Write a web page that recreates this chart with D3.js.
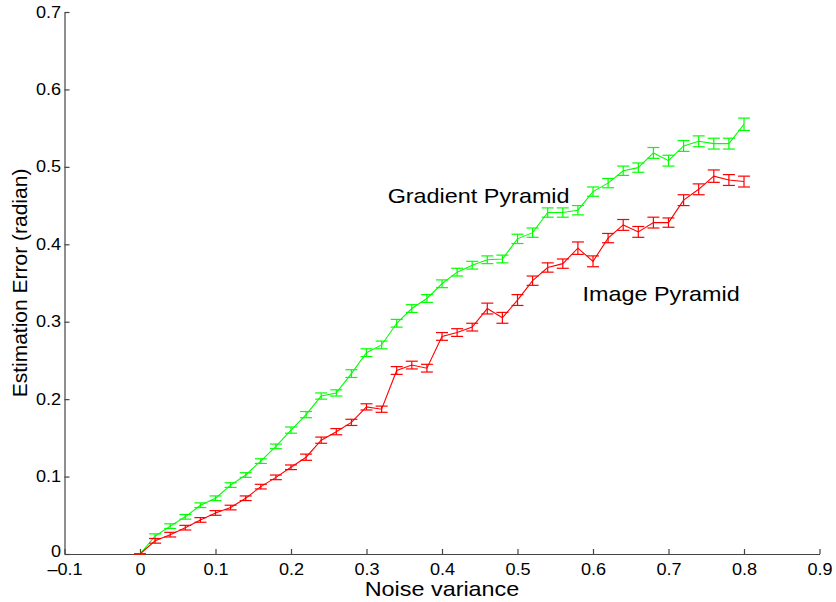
<!DOCTYPE html>
<html>
<head>
<meta charset="utf-8">
<script src="https://cdn.jsdelivr.net/npm/d3@7"></script>
<style>
  html, body { margin: 0; padding: 0; background: #fff; }
  svg { display: block; font-family: "Liberation Sans", Arial, sans-serif; }
</style>
</head>
<body>
<svg id="chart" width="836" height="602"></svg>
<script>
// Noise variance levels (x values)
const noiseVariance = [
  0, 0.02, 0.04, 0.06, 0.08, 0.10, 0.12, 0.14, 0.16, 0.18,
  0.20, 0.22, 0.24, 0.26, 0.28, 0.30, 0.32, 0.34, 0.36, 0.38,
  0.40, 0.42, 0.44, 0.46, 0.48, 0.50, 0.52, 0.54, 0.56, 0.58,
  0.60, 0.62, 0.64, 0.66, 0.68, 0.70, 0.72, 0.74, 0.76, 0.78, 0.80
];

// Mean estimation error, gradient pyramid
const gradientMean = [
  0, 0.023, 0.036, 0.048, 0.063, 0.072, 0.089, 0.102, 0.120, 0.139,
  0.160, 0.180, 0.204, 0.208, 0.233, 0.260, 0.270, 0.298, 0.317, 0.330,
  0.349, 0.364, 0.373, 0.380, 0.381, 0.407, 0.415, 0.441, 0.441, 0.444,
  0.468, 0.479, 0.495, 0.499, 0.518, 0.508, 0.527, 0.533, 0.530, 0.530, 0.555
];
// Half-width of the error bars, gradient pyramid
const gradientErr = [
  0, 0.003, 0.003, 0.003, 0.003, 0.003, 0.003, 0.003, 0.003, 0.003,
  0.004, 0.004, 0.004, 0.004, 0.005, 0.005, 0.005, 0.005, 0.005, 0.005,
  0.005, 0.005, 0.005, 0.005, 0.005, 0.006, 0.006, 0.006, 0.006, 0.006,
  0.006, 0.006, 0.006, 0.006, 0.007, 0.007, 0.007, 0.007, 0.007, 0.007, 0.008
];

// Mean estimation error, image pyramid
const imageMean = [
  0, 0.017, 0.025, 0.034, 0.044, 0.053, 0.060, 0.072, 0.087, 0.099,
  0.112, 0.125, 0.147, 0.158, 0.170, 0.190, 0.187, 0.237, 0.244, 0.240,
  0.281, 0.286, 0.293, 0.317, 0.305, 0.328, 0.353, 0.370, 0.375, 0.395,
  0.378, 0.408, 0.425, 0.416, 0.428, 0.428, 0.457, 0.471, 0.488, 0.483, 0.481
];
// Half-width of the error bars, image pyramid
const imageErr = [
  0, 0.003, 0.003, 0.003, 0.003, 0.003, 0.003, 0.003, 0.003, 0.003,
  0.003, 0.004, 0.004, 0.004, 0.004, 0.004, 0.004, 0.005, 0.005, 0.005,
  0.005, 0.005, 0.005, 0.007, 0.007, 0.007, 0.006, 0.006, 0.006, 0.008,
  0.007, 0.006, 0.007, 0.007, 0.007, 0.006, 0.007, 0.007, 0.008, 0.007, 0.007
];

const xTicks = [-0.1, 0, 0.1, 0.2, 0.3, 0.4, 0.5, 0.6, 0.7, 0.8, 0.9];
const yTicks = [0, 0.1, 0.2, 0.3, 0.4, 0.5, 0.6, 0.7];

const seriesNames = ["Gradient Pyramid", "Image Pyramid"];
const seriesColors = ["#00ff00", "#ff0000"];

const series = [
  { name: seriesNames[0], color: seriesColors[0], mean: gradientMean, err: gradientErr,
    labelAt: [0.328, 0.453] },
  { name: seriesNames[1], color: seriesColors[1], mean: imageMean, err: imageErr,
    labelAt: [0.586, 0.327] }
];

const svg = d3.select("#chart");
const margin = { left: 64.5, right: 16.5, top: 12, bottom: 48 };
const W = 836, H = 602;
// Text is drawn slightly wide (horizontal stretch factor)
const wideText = 1.17;
const wideTick = 1.13;

const x = d3.scaleLinear().domain([-0.1, 0.9]).range([margin.left, W - margin.right]);
const y = d3.scaleLinear().domain([0, 0.7]).range([H - margin.bottom, margin.top]);

const fmt = v => (v < 0 ? "\u2013" + d3.format("")(Math.abs(v)) : d3.format("")(v));

// Bottom axis, ticks pointing inward
const gx = svg.append("g")
  .attr("transform", `translate(0,${y(0)})`)
  .call(d3.axisBottom(x).tickValues(xTicks).tickSizeInner(-5).tickSizeOuter(0).tickPadding(10).tickFormat(fmt));
gx.selectAll("text").attr("font-size", 16).attr("fill", "#000")
  .attr("font-family", "Liberation Sans, Arial, sans-serif")
  .attr("transform", `scale(${wideTick},1)`);

// Left axis, ticks pointing inward
const gy = svg.append("g")
  .attr("transform", `translate(${x(-0.1)},0)`)
  .call(d3.axisLeft(y).tickValues(yTicks).tickSizeInner(-5).tickSizeOuter(0).tickPadding(3).tickFormat(d3.format("")));
gy.selectAll("text").attr("font-size", 16).attr("fill", "#000")
  .attr("font-family", "Liberation Sans, Arial, sans-serif")
  .attr("transform", `scale(${wideTick},1)`);
// lift the corner "0" a touch so it clears the x labels
gy.selectAll(".tick").filter(d => d === 0).select("text").attr("dy", "0.18em");

svg.selectAll(".domain, .tick line").attr("stroke", "#444").attr("stroke-width", 1.2);

// Curves with error bars
const line = d3.line().x((d, i) => x(noiseVariance[i])).y(d => y(d));
const capHalf = 6;

series.forEach(s => {
  const g = svg.append("g");
  g.append("path")
    .datum(s.mean)
    .attr("d", line)
    .attr("fill", "none")
    .attr("stroke", s.color)
    .attr("stroke-width", 1.1);

  const bars = g.selectAll("g.bar")
    .data(s.mean.map((m, i) => ({ v: noiseVariance[i], m, e: s.err[i] })))
    .join("g").attr("class", "bar")
    .attr("stroke", s.color).attr("stroke-width", 1.2);
  bars.append("line")
    .attr("x1", d => x(d.v)).attr("x2", d => x(d.v))
    .attr("y1", d => y(d.m - d.e)).attr("y2", d => y(d.m + d.e));
  bars.append("line")
    .attr("x1", d => x(d.v) - capHalf).attr("x2", d => x(d.v) + capHalf)
    .attr("y1", d => y(d.m - d.e)).attr("y2", d => y(d.m - d.e));
  bars.append("line")
    .attr("x1", d => x(d.v) - capHalf).attr("x2", d => x(d.v) + capHalf)
    .attr("y1", d => y(d.m + d.e)).attr("y2", d => y(d.m + d.e));

  svg.append("text")
    .attr("transform", `translate(${x(s.labelAt[0])},${y(s.labelAt[1])}) scale(${wideText},1)`)
    .attr("font-size", 20).attr("fill", "#000")
    .text(s.name);
});

// Axis titles
svg.append("text")
  .attr("transform", `translate(${(x(-0.1) + x(0.9)) / 2},596) scale(${wideText},1)`)
  .attr("text-anchor", "middle").attr("font-size", 20).attr("fill", "#000")
  .text("Noise variance");

svg.append("text")
  .attr("transform", `translate(27,${(y(0) + y(0.7)) / 2}) rotate(-90)`)
  .attr("text-anchor", "middle").attr("font-size", 21).attr("fill", "#000")
  .text("Estimation Error (radian)");
</script>
</body>
</html>
